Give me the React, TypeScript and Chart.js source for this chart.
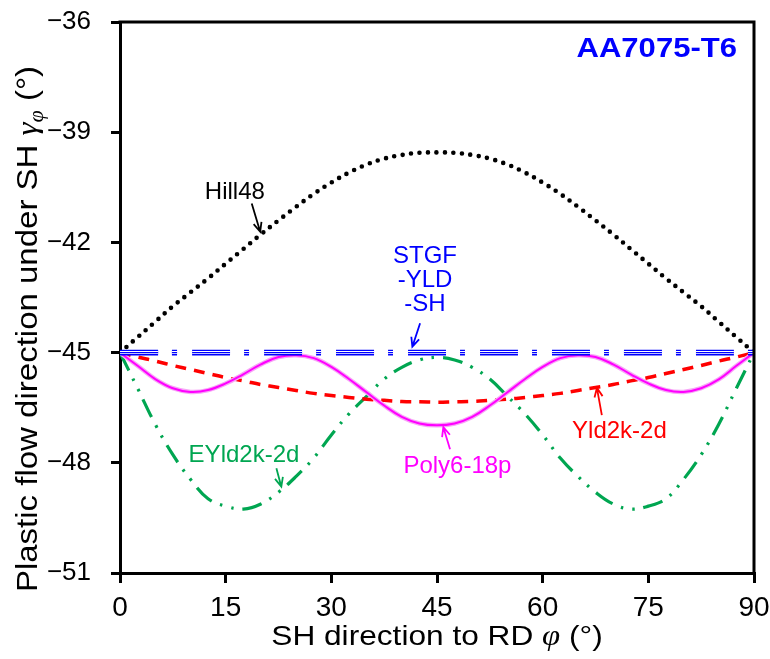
import React, { useEffect, useRef } from 'react';
import { Chart, registerables } from 'chart.js';

Chart.register(...registerables);

// ---------------- data ----------------
const phi = [0, 2.5, 5, 7.5, 10, 12.5, 15, 17.5, 20, 22.5, 25, 27.5, 30, 32.5, 35, 37.5, 40, 42.5, 45,
  47.5, 50, 52.5, 55, 57.5, 60, 62.5, 65, 67.5, 70, 72.5, 75, 77.5, 80, 82.5, 85, 87.5, 90];

const hill48 = [-45.00, -44.58, -44.16, -43.74, -43.36, -42.98, -42.58, -42.18, -41.78, -41.40, -41.03, -40.68, -40.37, -40.10, -39.88, -39.72, -39.62, -39.56, -39.55,
  -39.56, -39.62, -39.72, -39.88, -40.10, -40.37, -40.68, -41.03, -41.40, -41.78, -42.18, -42.58, -42.98, -43.36, -43.74, -44.16, -44.58, -45.00];

const stgfYldSh = [-45, -45, -45, -45, -45, -45, -45, -45, -45, -45, -45, -45, -45, -45, -45, -45, -45, -45, -45,
  -45, -45, -45, -45, -45, -45, -45, -45, -45, -45, -45, -45, -45, -45, -45, -45, -45, -45];

const yld2k = [-45.00, -45.12, -45.23, -45.35, -45.46, -45.57, -45.68, -45.77, -45.87, -45.95, -46.03, -46.11, -46.17, -46.22, -46.27, -46.30, -46.33, -46.34, -46.35,
  -46.34, -46.33, -46.30, -46.27, -46.22, -46.17, -46.11, -46.03, -45.95, -45.87, -45.77, -45.68, -45.57, -45.46, -45.35, -45.23, -45.12, -45.00];

const eyld2k = [-45.00, -45.97, -46.95, -47.78, -48.45, -48.98, -49.18, -49.26, -49.12, -48.80, -48.37, -47.87, -47.24, -46.67, -46.19, -45.72, -45.40, -45.20, -45.13,
  -45.20, -45.40, -45.72, -46.19, -46.67, -47.24, -47.87, -48.37, -48.80, -49.12, -49.26, -49.18, -48.98, -48.45, -47.78, -46.95, -45.97, -45.00];

const poly6 = [-45.00, -45.36, -45.72, -45.97, -46.07, -46.02, -45.84, -45.59, -45.32, -45.12, -45.07, -45.15, -45.39, -45.72, -46.08, -46.44, -46.75, -46.93, -46.98,
  -46.93, -46.75, -46.44, -46.08, -45.72, -45.39, -45.15, -45.07, -45.12, -45.32, -45.59, -45.84, -46.02, -46.07, -45.97, -45.73, -45.36, -45.00];

const xTicks = [0, 15, 30, 45, 60, 75, 90];
const yTicks = [-51, -48, -45, -42, -39, -36];

// ---------------- styling ----------------
const SANS = "'Liberation Sans', Arial, Helvetica, sans-serif";
const SERIF = "'Liberation Serif', 'Times New Roman', serif";

type Ann = { lines: string[]; color: string; x: number; y: number; arrow: [number, number, number, number] };
const annotations: Ann[] = [
  { lines: ['Hill48'], color: '#000000', x: 16.3, y: -40.82, arrow: [18.7, -40.94, 19.9, -41.71] },
  { lines: ['STGF', '-YLD', '-SH'], color: '#0000FF', x: 43.3, y: -42.57, arrow: [42.6, -44.2, 41.5, -44.84] },
  { lines: ['EYld2k-2d'], color: '#00A651', x: 17.6, y: -47.97, arrow: [22.2, -48.15, 22.9, -48.65] },
  { lines: ['Poly6-18p'], color: '#FF00FF', x: 47.9, y: -48.27, arrow: [46.85, -47.63, 45.9, -47.03] },
  { lines: ['Yld2k-2d'], color: '#FF0000', x: 70.9, y: -47.33, arrow: [68.4, -46.7, 67.7, -45.96] },
];

const pts = (vals: number[]) => phi.map((p, i) => ({ x: p, y: vals[i] }));

type Seg = { t: string; font: string; dy?: number };
function richWidth(ctx: CanvasRenderingContext2D, segs: Seg[]) {
  let w = 0;
  for (const s of segs) { ctx.font = s.font; w += ctx.measureText(s.t).width; }
  return w;
}
// draws segments starting at (x,y) with horizontal stretch sx (in the current transform)
function drawRich(ctx: CanvasRenderingContext2D, segs: Seg[], x: number, y: number, sx: number) {
  ctx.save();
  ctx.translate(x, y);
  ctx.scale(sx, 1);
  let cx = 0;
  for (const s of segs) {
    ctx.font = s.font;
    ctx.fillText(s.t, cx, s.dy || 0);
    cx += ctx.measureText(s.t).width;
  }
  ctx.restore();
}

function arrow(ctx: CanvasRenderingContext2D, x1: number, y1: number, x2: number, y2: number, color: string) {
  const ang = Math.atan2(y2 - y1, x2 - x1);
  const L = 10, spread = 0.42;
  ctx.strokeStyle = color;
  ctx.lineWidth = 1.8;
  ctx.beginPath();
  ctx.moveTo(x1, y1); ctx.lineTo(x2, y2);
  ctx.moveTo(x2 - L * Math.cos(ang - spread), y2 - L * Math.sin(ang - spread));
  ctx.lineTo(x2, y2);
  ctx.lineTo(x2 - L * Math.cos(ang + spread), y2 - L * Math.sin(ang + spread));
  ctx.stroke();
}

const decor = {
  id: 'decor',
  afterDatasetsDraw(chart: any) {
    const { ctx, chartArea: a, scales } = chart;
    const xs = scales.x, ys = scales.y;
    ctx.save();
    // frame top & right
    ctx.strokeStyle = '#000';
    ctx.lineWidth = 3;
    ctx.beginPath();
    ctx.moveTo(a.left - 1.5, a.top);
    ctx.lineTo(a.right, a.top);
    ctx.lineTo(a.right, a.bottom + 1.5);
    ctx.stroke();

    // annotations
    ctx.textAlign = 'center';
    ctx.textBaseline = 'alphabetic';
    for (const an of annotations) {
      ctx.fillStyle = an.color;
      ctx.font = `24px ${SANS}`;
      const px = xs.getPixelForValue(an.x);
      let py = ys.getPixelForValue(an.y);
      for (const ln of an.lines) { ctx.fillText(ln, px, py); py += 24; }
      const [ax1, ay1, ax2, ay2] = an.arrow;
      arrow(ctx, xs.getPixelForValue(ax1), ys.getPixelForValue(ay1), xs.getPixelForValue(ax2), ys.getPixelForValue(ay2), an.color);
    }
    // material label
    ctx.textAlign = 'left';
    ctx.fillStyle = '#0000FF';
    const mat: Seg[] = [{ t: 'AA7075-T6', font: `bold 27px ${SANS}` }];
    const mw = richWidth(ctx, mat) * 1.15;
    drawRich(ctx, mat, a.right - 17 - mw, a.top + 35, 1.15);
    ctx.restore();
  },
  afterDraw(chart: any) {
    const { ctx, chartArea: a } = chart;
    ctx.save();
    ctx.fillStyle = '#000';
    ctx.textAlign = 'left';
    ctx.textBaseline = 'alphabetic';
    // x title
    const xsg: Seg[] = [
      { t: 'SH direction to RD ', font: `28px ${SANS}` },
      { t: '\u03C6', font: `italic 29px ${SERIF}` },
      { t: ' (\u00B0)', font: `28px ${SANS}` },
    ];
    const sxx = 1.13;
    const wx = richWidth(ctx, xsg) * sxx;
    drawRich(ctx, xsg, (a.left + a.right) / 2 - wx / 2, a.bottom + 72, sxx);
    // y title
    const ysg: Seg[] = [
      { t: 'Plastic flow direction under SH ', font: `30px ${SANS}` },
      { t: '\u03B3', font: `italic 30px ${SERIF}` },
      { t: '\u03C6', font: `italic 20px ${SERIF}`, dy: 6 },
      { t: ' (\u00B0)', font: `30px ${SANS}` },
    ];
    const sxy = 1.1;
    const wy = richWidth(ctx, ysg) * sxy;
    ctx.translate(37, 329);
    ctx.rotate(-Math.PI / 2);
    drawRich(ctx, ysg, -wy / 2, 0, sxy);
    ctx.restore();
  },
};

export default function App() {
  const ref = useRef<HTMLCanvasElement | null>(null);
  useEffect(() => {
    document.body.style.margin = '0';
    const canvas = ref.current;
    if (!canvas) return;
    const base = { pointRadius: 0, pointHoverRadius: 0, fill: false, tension: 0.4 };
    const blueDash = [38, 14, 5, 15];
    const chart = new Chart(canvas, {
      type: 'line',
      data: {
        datasets: [
          // STGF-YLD-SH triple line (core, gap, outer)
          { ...base, label: 'STGF-YLD-SH', data: pts(stgfYldSh), borderColor: '#0000FF', borderWidth: 1.4, borderDash: blueDash },
          { ...base, label: 'gap', data: pts(stgfYldSh), borderColor: '#FFFFFF', borderWidth: 3.0, borderDash: blueDash },
          { ...base, label: 'outer', data: pts(stgfYldSh), borderColor: '#0000FF', borderWidth: 5.6, borderDash: blueDash },
          // Poly6-18p double-ish line
          { ...base, label: 'Poly6-18p', data: pts(poly6), borderColor: '#FF00FF', borderWidth: 2 },
          { ...base, label: 'Poly6-18p halo', data: pts(poly6), borderColor: '#F7A6F7', borderWidth: 4.5 },
          // Yld2k-2d
          { ...base, label: 'Yld2k-2d', data: pts(yld2k), borderColor: '#FF0000', borderWidth: 3.5, borderDash: [11, 8] },
          // EYld2k-2d
          { ...base, label: 'EYld2k-2d', data: pts(eyld2k), borderColor: '#00A651', borderWidth: 3.2, borderDash: [20, 9, 2.5, 9, 2.5, 9] },
          // Hill48
          { ...base, label: 'Hill48', data: pts(hill48), borderColor: '#000000', borderWidth: 4.6, borderDash: [0, 8.5], borderCapStyle: 'round' },
        ],
      },
      options: {
        responsive: false,
        animation: false,
        events: [],
        devicePixelRatio: 1,
        layout: { padding: { left: 0, right: 16, top: 22, bottom: 0 } },
        plugins: { legend: { display: false }, tooltip: { enabled: false }, title: { display: false } },
        scales: {
          x: {
            type: 'linear',
            min: 0,
            max: 90,
            afterBuildTicks: (s: any) => { s.ticks = xTicks.map((v) => ({ value: v })); },
            afterFit: (s: any) => { s.height = 86; s.paddingLeft = 0; s.paddingRight = 0; },
            ticks: { font: { family: SANS, size: 28 }, color: '#000', padding: 8, maxRotation: 0, autoSkip: false },
            grid: { drawOnChartArea: false, drawTicks: true, tickLength: 10, color: '#000', lineWidth: 3 },
            border: { display: true, color: '#000', width: 3 },
          },
          y: {
            type: 'linear',
            min: -51,
            max: -36,
            afterBuildTicks: (s: any) => { s.ticks = yTicks.map((v) => ({ value: v })); },
            afterFit: (s: any) => { s.width = 120; s.paddingTop = 0; s.paddingBottom = 0; },
            ticks: {
              font: { family: SANS, size: 26 }, color: '#000', padding: 20, autoSkip: false,
              callback: (v: any) => String(v).replace('-', '\u2212'),
            },
            grid: { drawOnChartArea: false, drawTicks: true, tickLength: 9, color: '#000', lineWidth: 3 },
            border: { display: true, color: '#000', width: 3 },
          },
        },
      },
      plugins: [decor],
    } as any);
    return () => chart.destroy();
  }, []);
  return (
    <div style={{ width: 770, height: 659 }}>
      <canvas ref={ref} width={770} height={659} style={{ display: 'block' }} />
    </div>
  );
}
